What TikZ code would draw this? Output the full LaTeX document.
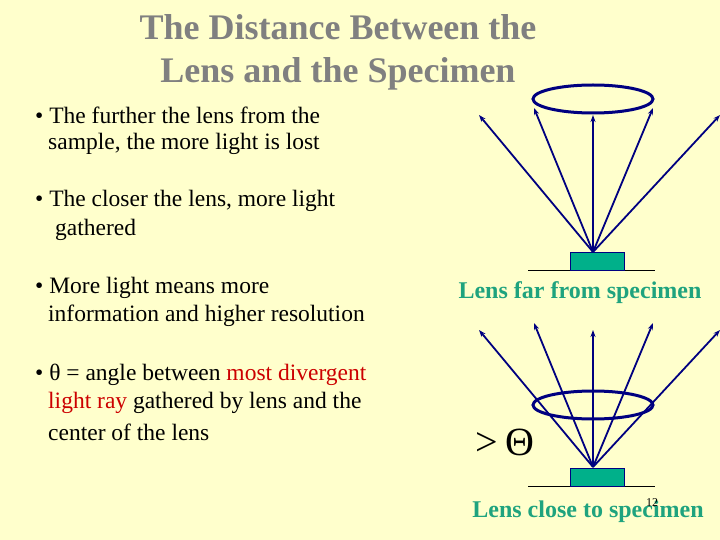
\documentclass[tikz,border=0pt]{standalone}
\usepackage{fontspec}
\setmainfont{Liberation Serif}
\usetikzlibrary{arrows.meta}
\definecolor{bg}{HTML}{FFFFCC}
\definecolor{navy}{HTML}{000080}
\definecolor{teal2}{HTML}{1FA37E}
\definecolor{spec}{HTML}{00B08A}
\tikzset{
 txt/.style={anchor=west,inner sep=0pt,font=\fontsize{23.5}{25}\selectfont},
 ray/.style={navy,line width=1.8pt,-{Stealth[length=7pt,width=5pt]}},
 lens/.style={navy,line width=3pt},
 lbl/.style={teal2,font=\fontsize{24}{26}\selectfont\bfseries,inner sep=0pt},
}
\begin{document}
\begin{tikzpicture}[x=1pt,y=-1pt]
\fill[bg] (0,0) rectangle (720,540);
\useasboundingbox (0,0) rectangle (720,540);
\node[gray,font=\fontsize{36}{43}\selectfont\bfseries,align=center] (title) at (338,52) {The Distance Between the\\Lens and the Specimen};
\node[txt] (b1) at (35,115) {• The further the lens from the};
\node[txt] (b1b) at (48,144) {sample, the more light is lost};
\node[txt] (b2) at (35,201) {• The closer the lens, more light};
\node[txt] (b2b) at (55,230) {gathered};
\node[txt] (b3) at (35,288) {• More light means more};
\node[txt] (b3b) at (48,316) {information and higher resolution};
\node[txt] (b4) at (35,375) {• θ = angle between \textcolor{red!80!black}{most divergent}};
\node[txt] (b4b) at (48,403) {\textcolor{red!80!black}{light ray} gathered by lens and the};
\node[txt] (b4c) at (48,432) {center of the lens};
% top diagram
\draw[black] (528,270) -- (655,270);
\node[draw=navy,fill=spec,minimum width=54pt,minimum height=18pt,inner sep=0pt,line width=0.8pt] (s1) at (597,261) {};
\coordinate (o1) at (593,252);
\foreach \x/\y [count=\i] in {479/115,534/108,593/115,653/108,720/115}
  \coordinate (t1\i) at (\x,\y);
\foreach \i in {1,...,5} \draw[ray] (o1) -- (t1\i);
\draw[lens] (593,99) ellipse [x radius=60,y radius=14];
\node[lbl] (l1) at (580,293) {Lens far from specimen};
% bottom diagram
\draw[black] (528,486) -- (655,486);
\node[draw=navy,fill=spec,minimum width=54pt,minimum height=18pt,inner sep=0pt,line width=0.8pt] (s2) at (597,477) {};
\coordinate (o2) at (593,467);
\foreach \x/\y [count=\i] in {479/330,534/323,593/330,653/323,720/330}
  \coordinate (t2\i) at (\x,\y);
\draw[lens] (593,405) ellipse [x radius=60,y radius=14];
\foreach \i in {1,...,5} \draw[ray] (o2) -- (t2\i);
\node[inner sep=0pt,font=\fontsize{40}{40}\selectfont] (th) at (505,442) {>\,Θ};
\node[lbl] (l2) at (588,512) {Lens close to specimen};
\node[inner sep=0pt,font=\fontsize{12}{12}\selectfont] (pg) at (652,503) {12};
\end{tikzpicture}
\end{document}
